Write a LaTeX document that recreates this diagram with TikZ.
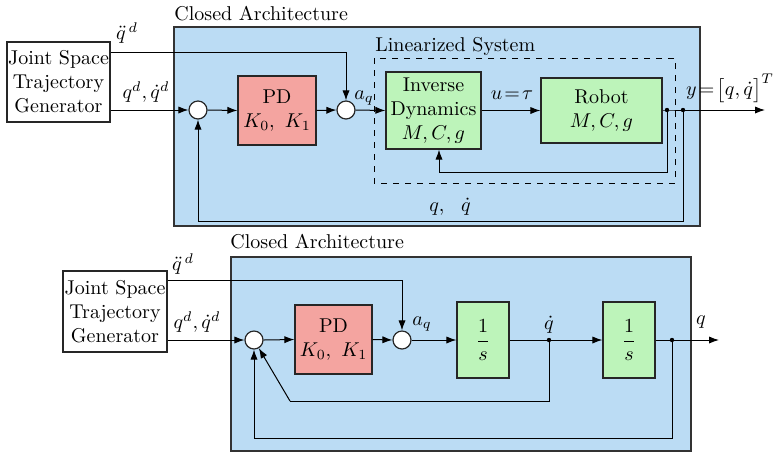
\documentclass[tikz,border=0pt]{standalone}
\usepackage{amsmath}
\usetikzlibrary{arrows.meta}
\definecolor{bluebg}{RGB}{187,220,244}
\definecolor{pdred}{RGB}{244,164,160}
\definecolor{lgreen}{RGB}{189,244,186}
\begin{document}
\begin{tikzpicture}[x=0.5pt,y=-0.5pt,
  block/.style={draw=black!85, line width=0.6pt, align=center, inner sep=0pt},
  sumc/.style={circle, draw=black!85, line width=0.6pt, fill=white, minimum size=9pt, inner sep=0pt},
  arr/.style={-{Latex[length=5pt,width=3.6pt]}, line width=0.5pt},
  ln/.style={line width=0.5pt},
  dotn/.style={circle, fill=black, minimum size=2.2pt, inner sep=0pt},
  lbl/.style={inner sep=0pt}]
\useasboundingbox (0,0) rectangle (776,452);

% ---------- top diagram ----------
\filldraw[fill=bluebg, draw=black!80, line width=0.7pt] (174,27) rectangle (700,226);
\node[lbl, anchor=west] (ca1) at (174,14) {Closed Architecture};
\draw[dashed, line width=0.5pt] (374,58) rectangle (675,183);
\node[lbl, anchor=west] (ls) at (375,46) {Linearized System};

\node[block, fill=white, minimum width=51.5pt, minimum height=40pt] (gen1) at (58.5,82) {Joint Space\\Trajectory\\Generator};
\node[sumc] (s1) at (198,110) {};
\node[block, fill=pdred, minimum width=39pt, minimum height=34.5pt] (pd1) at (277,110.5) {PD\\$K_0,\ K_1$};
\node[sumc] (s2) at (346,110) {};
\node[block, fill=lgreen, minimum width=47.5pt, minimum height=38.5pt] (id) at (433.5,110.5) {Inverse\\Dynamics\\$M,C,g$};
\node[block, fill=lgreen, minimum width=60.5pt, minimum height=32.5pt] (rob) at (601.5,110.5) {Robot\\$M,C,g$};
\node[dotn] (d1) at (667,110) {};
\node[dotn] (d2) at (683,110) {};
\coordinate (out1) at (765,110);
\coordinate (qdd1) at (346,52);
\coordinate (fb1) at (439,172);
\coordinate (fb2) at (198,221);

\draw[ln] (gen1.east |- qdd1) -- (qdd1);
\draw[arr] (qdd1) -- (s2.north);
\draw[arr] (gen1.east |- s1) -- (s1.west);
\draw[arr] (s1.east) -- (pd1.west);
\draw[arr] (pd1.east) -- (s2.west);
\draw[arr] (s2.east) -- (id.west);
\draw[arr] (id.east |- rob) -- (rob.west);
\draw[ln] (rob.east |- d1) -- (d1.center) -- (d2.center);
\draw[arr] (d2.center) -- (out1);
\draw[ln] (d1.center) |- (fb1);
\draw[arr] (fb1) -- (fb1 |- id.south);
\draw[ln] (d2.center) |- (fb2);
\draw[arr] (fb2) -- (s1.south);

\node[lbl] (l1) at (127,33) {$\ddot q^{\,d}$};
\node[lbl] (l2) at (146,92) {$q^{d}, \dot q^{d}$};
\node[lbl] (l3) at (364,98) {$a_q$};
\node[lbl] (l4) at (512,95) {$u\!=\!\tau$};
\node[lbl] (l5) at (730,88) {$y\!=\!\bigl[q,\dot q\bigr]^T$};
\node[lbl] (l6) at (450,207) {$q,\ \ \dot q$};

% ---------- bottom diagram ----------
\filldraw[fill=bluebg, draw=black!80, line width=0.7pt] (231,257) rectangle (691,451);
\node[lbl, anchor=west] (ca2) at (230,242) {Closed Architecture};

\node[block, fill=white, minimum width=52pt, minimum height=40.5pt] (gen2) at (115,311.5) {Joint Space\\Trajectory\\Generator};
\node[sumc] (s3) at (254,340) {};
\node[block, fill=pdred, minimum width=38.5pt, minimum height=34.5pt] (pd2) at (333.5,339.5) {PD\\$K_0,\ K_1$};
\node[sumc] (s4) at (402,340) {};
\node[block, fill=lgreen, minimum width=26pt, minimum height=38pt] (i1) at (483,340) {$\dfrac{1}{s}$};
\node[dotn] (d3) at (549,340) {};
\node[block, fill=lgreen, minimum width=26pt, minimum height=38pt] (i2) at (629,340) {$\dfrac{1}{s}$};
\node[dotn] (d4) at (672,340) {};
\coordinate (out2) at (719,340);
\coordinate (qdd2) at (402,280);
\coordinate (fb3) at (290,401);
\coordinate (fb4) at (254,438);

\draw[ln] (gen2.east |- qdd2) -- (qdd2);
\draw[arr] (qdd2) -- (s4.north);
\draw[arr] (gen2.east |- s3) -- (s3.west);
\draw[arr] (s3.east) -- (pd2.west);
\draw[arr] (pd2.east) -- (s4.west);
\draw[arr] (s4.east) -- (i1.west);
\draw[ln] (i1.east) -- (d3.center);
\draw[arr] (d3.center) -- (i2.west);
\draw[ln] (i2.east) -- (d4.center);
\draw[arr] (d4.center) -- (out2);
\draw[ln] (d3.center) |- (fb3);
\draw[arr] (fb3) -- (s3);
\draw[ln] (d4.center) |- (fb4);
\draw[arr] (fb4) -- (s3.south);

\node[lbl] (l7) at (183,264) {$\ddot q^{\,d}$};
\node[lbl] (l8) at (197,322) {$q^{d}, \dot q^{d}$};
\node[lbl] (l9) at (422,324) {$a_q$};
\node[lbl] (l10) at (549,325) {$\dot q$};
\node[lbl] (l11) at (701,322) {$q$};
\end{tikzpicture}
\end{document}
